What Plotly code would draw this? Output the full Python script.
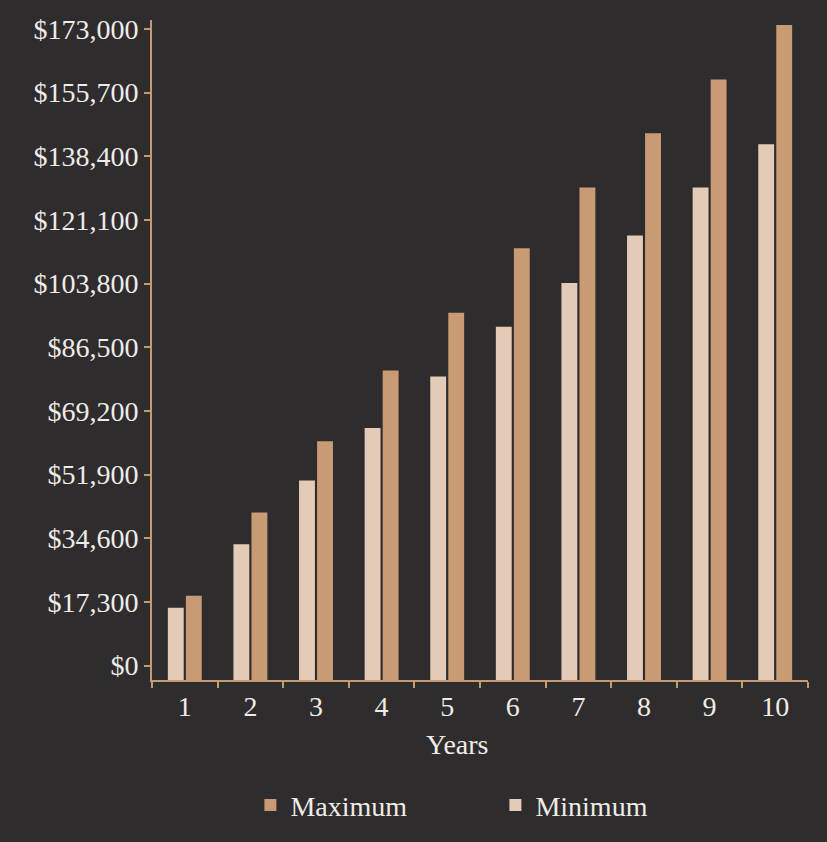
import plotly.graph_objects as go

years = ["1", "2", "3", "4", "5", "6", "7", "8", "9", "10"]
minimum = [15700, 33000, 50300, 64600, 78600, 92100, 104000, 116900, 129900, 141700]
maximum = [19000, 41600, 61000, 80200, 95900, 113400, 129900, 144700, 159300, 174100]
tick_vals = [0, 17300, 34600, 51900, 69200, 86500, 103800, 121100, 138400, 155700, 173000]
tick_text = ["$" + f"{v:,}" for v in tick_vals]
x_title = "Years"

Y_FLOOR = -3900
Y_TOP = 175450

BG = "#2e2c2d"
C_MAX = "#c99b74"
C_MIN = "#e3cbb7"
AXIS = "#c49a72"
TXT = "#efebe7"
FONT = "Liberation Serif"

fig = go.Figure()
fig.add_trace(go.Bar(name="Minimum", x=years, y=[v - Y_FLOOR for v in minimum], base=Y_FLOOR,
                     marker=dict(color=C_MIN, line=dict(width=0)),
                     customdata=minimum, hovertemplate="%{customdata:$,}<extra>Minimum</extra>"))
fig.add_trace(go.Bar(name="Maximum", x=years, y=[v - Y_FLOOR for v in maximum], base=Y_FLOOR,
                     marker=dict(color=C_MAX, line=dict(width=0)),
                     customdata=maximum, hovertemplate="%{customdata:$,}<extra>Maximum</extra>"))

fig.update_layout(
    width=827, height=842,
    paper_bgcolor=BG, plot_bgcolor=BG,
    margin=dict(l=152, r=19, t=20, b=156),
    font=dict(family=FONT, size=28, color=TXT),
    barmode="group", bargap=0.45, bargroupgap=0.12,
    showlegend=True,
    legend=dict(orientation="h", traceorder="reversed", x=0.15, xanchor="left",
                y=-0.19, yanchor="middle", font=dict(size=28, color=TXT),
                bgcolor="rgba(0,0,0,0)", entrywidth=200),
    xaxis=dict(type="category", showgrid=False, zeroline=False, showline=True,
               linecolor=AXIS, linewidth=2, ticks="outside", tickson="boundaries",
               ticklen=6, tickcolor=AXIS, tickwidth=2,
               tickfont=dict(size=28, color=TXT)),
    yaxis=dict(range=[Y_FLOOR, Y_TOP], tickvals=tick_vals, ticktext=tick_text,
               showgrid=False, zeroline=False, showline=True, linecolor=AXIS, linewidth=2,
               ticks="outside", ticklen=6, tickcolor=AXIS, tickwidth=2,
               tickfont=dict(size=28, color=TXT)),
    annotations=[dict(text=x_title, xref="paper", yref="paper", x=0.465, y=-0.097,
                      xanchor="center", yanchor="middle", showarrow=False,
                      font=dict(size=28, color=TXT))],
)

fig.write_html("out.html", config={"displayModeBar": False},
               post_script="document.body.style.margin='0';document.body.style.background='#2e2c2d';document.body.style.overflow='hidden';")
